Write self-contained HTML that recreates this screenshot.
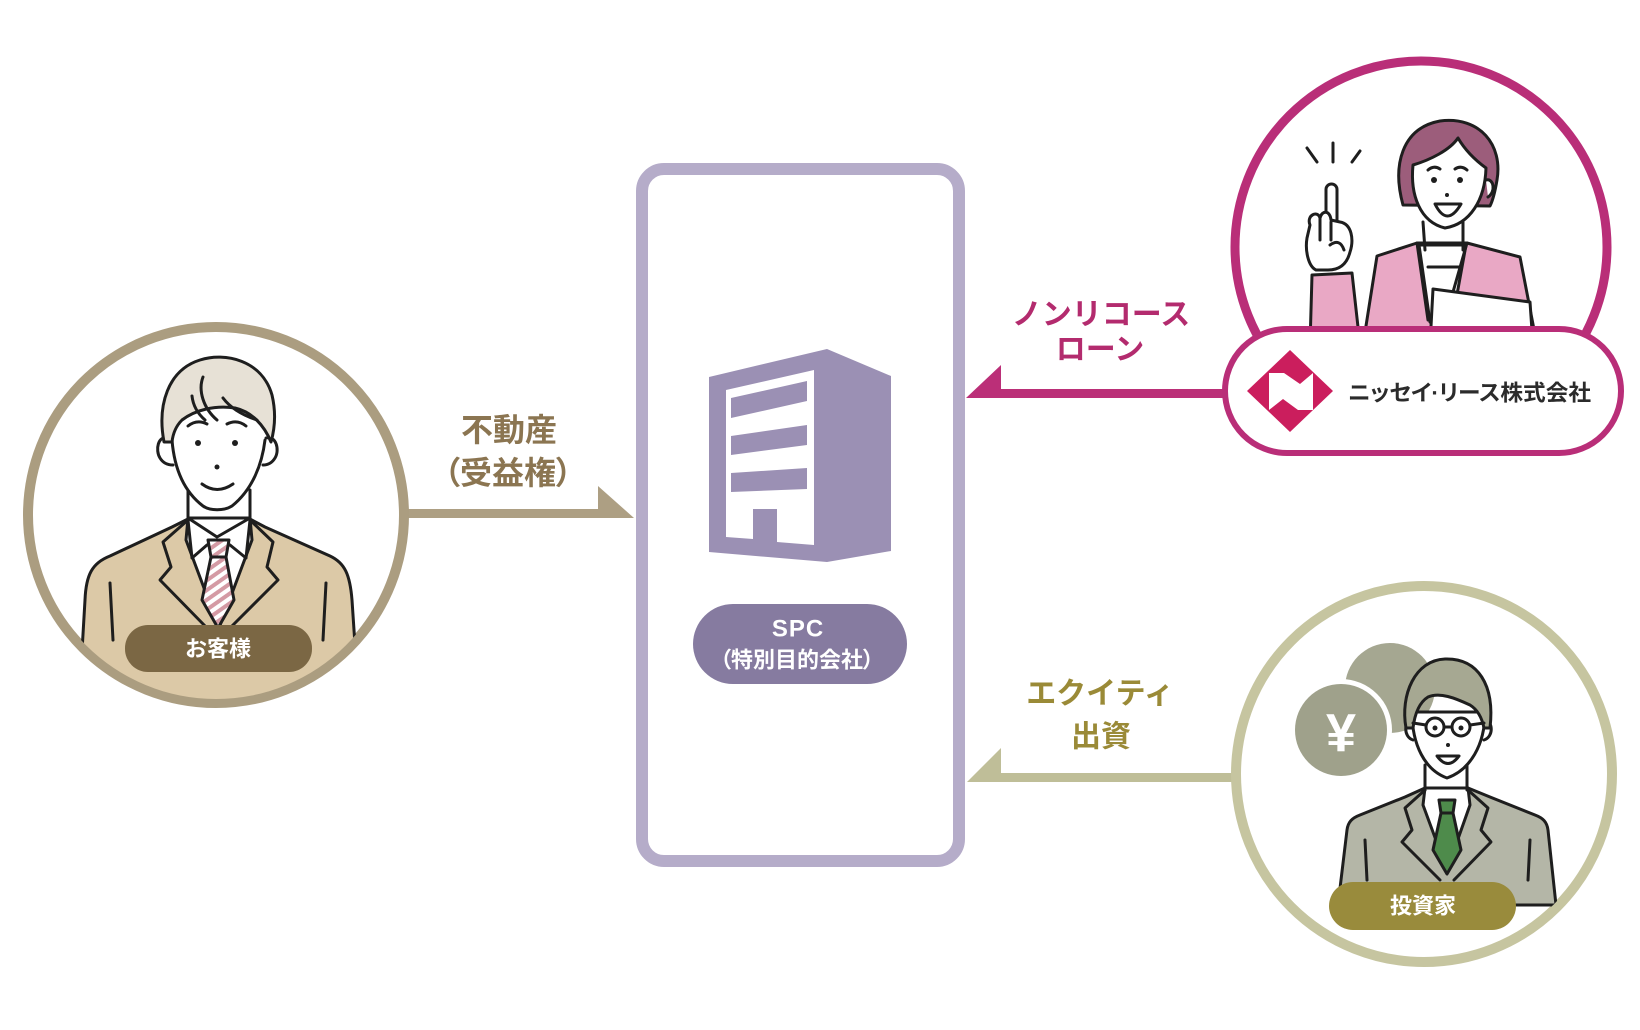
<!DOCTYPE html>
<html><head><meta charset="utf-8"><style>
html,body{margin:0;padding:0;background:#fff;}
svg{display:block;}
text{font-family:"Liberation Sans","Noto Sans CJK JP",sans-serif;font-weight:bold;}
</style></head><body>
<svg width="1640" height="1030" viewBox="0 0 1640 1030" xmlns="http://www.w3.org/2000/svg">
<defs>
<clipPath id="cL"><circle cx="216" cy="515" r="184"/></clipPath>
<clipPath id="cN"><circle cx="1421" cy="247" r="182"/></clipPath>
<clipPath id="cI"><circle cx="1424" cy="774" r="184"/></clipPath>
<pattern id="stripe" patternUnits="userSpaceOnUse" width="8" height="8" patternTransform="rotate(-35)">
<rect width="8" height="8" fill="#fff"/><rect width="8" height="4" fill="#d49aa4"/></pattern>
</defs>
<rect width="1640" height="1030" fill="#fff"/>

<!-- SPC box -->
<rect x="642" y="169" width="317" height="692" rx="22" fill="#fff" stroke="#b5acc9" stroke-width="12"/>
<polygon points="709,377 827,349 891,376 891,551 827,562 709,552" fill="#9b90b4"/>
<polygon points="726,390 814,370 814,545 777,542 777,509 753,509 753,539 726,537" fill="#fff"/>
<polygon points="731,398 807,381 807,401 731,418" fill="#9b90b4"/>
<polygon points="731,436 807,425 807,445 731,455" fill="#9b90b4"/>
<polygon points="731,473 807,468 807,489 731,492" fill="#9b90b4"/>
<rect x="693" y="604" width="214" height="80" rx="40" fill="#867ba0"/>
<text x="798" y="629" font-size="24" fill="#fff" text-anchor="middle" dominant-baseline="central" letter-spacing="1">SPC</text>
<text x="797" y="660" font-size="22" fill="#fff" text-anchor="middle" dominant-baseline="central" style="font-feature-settings:'palt'">（特別目的会社）</text>

<!-- arrows -->
<polygon points="405,509 598,509 598,486 634,518 405,518" fill="#ad9f83"/>
<polygon points="1226,389 1001,389 1001,365 966,398 1226,398" fill="#bb2f78"/>
<polygon points="1232,773 1001,773 1001,748 967,782 1232,782" fill="#bfbe98"/>

<!-- arrow labels -->
<text x="509" y="430" font-size="32" fill="#8b7551" text-anchor="middle" dominant-baseline="central">不動産</text>
<text x="508" y="473" font-size="32" fill="#8b7551" text-anchor="middle" dominant-baseline="central" style="font-feature-settings:'palt'">（受益権）</text>
<text x="1101" y="315" font-size="30" fill="#b32b6e" text-anchor="middle" dominant-baseline="central">ノンリコース</text>
<text x="1100" y="350" font-size="30" fill="#b32b6e" text-anchor="middle" dominant-baseline="central">ローン</text>
<text x="1100" y="694" font-size="30" fill="#9a8a37" text-anchor="middle" dominant-baseline="central">エクイティ</text>
<text x="1101" y="737" font-size="30" fill="#9a8a37" text-anchor="middle" dominant-baseline="central">出資</text>

<!-- LEFT customer -->
<circle cx="216" cy="515" r="188" fill="#fff" stroke="#ab9d80" stroke-width="10"/>
<g clip-path="url(#cL)" stroke="#1e1e1e" stroke-width="3" stroke-linejoin="round" stroke-linecap="round">
<path d="M78 720 L85 600 C86 575,92 563,110 556 L172 527 L190 518 L248 518 L265 527 L330 556 C345 563,350 575,352 600 L360 720 Z" fill="#dcc9a7"/>
<polygon points="188,518 250,518 252,540 219,628 186,540" fill="#fff"/>
<polygon points="208,540 229,540 226,557 211,557" fill="url(#stripe)"/>
<polygon points="211,557 226,557 234,600 218,628 202,600" fill="url(#stripe)"/>
<polyline points="188,518 217,537 250,518" fill="none"/>
<polyline points="188,520 192,558 207,545" fill="none"/>
<polyline points="250,520 246,558 230,545" fill="none"/>
<polyline points="188,520 163,542 171,567 160,580 207,628" fill="none"/>
<polyline points="250,520 273,542 267,567 278,580 230,628" fill="none"/>
<path d="M110 583 L113 640 M326 583 L323 640" fill="none"/>
<path d="M188 490 L188 520 M250 490 L250 520" fill="none"/>
<path d="M168 438 C158 435,155 450,160 458 C163 463,168 465,173 465" fill="#fff"/>
<path d="M266 438 C276 435,280 450,275 458 C272 463,268 465,263 465" fill="#fff"/>
<path d="M172 430 C172 465,182 490,203 506 C210 511,224 511,232 506 C252 490,264 465,265 430 Z" fill="#fff" stroke="none"/>
<path d="M172 440 C174 465,182 490,203 506 C210 511,224 511,232 506 C252 490,262 465,265 440" fill="none"/>
<path d="M164 442 C157 405,168 370,200 360 C225 352,262 360,272 395 C276 412,275 428,271 442 C264 425,252 412,235 408 C215 405,195 410,182 420 C176 426,173 433,172 442 Z" fill="#e7e1d6"/>
<path d="M203 377 C198 390,203 408,217 420 M223 398 C232 410,245 416,257 420 M192 396 C193 405,197 413,205 420" fill="none"/>
<path d="M188 426 Q197 419 207 424 M227 424 Q237 419 246 426" fill="none"/>
<circle cx="198" cy="443" r="3" fill="#1e1e1e" stroke="none"/>
<circle cx="235" cy="443" r="3" fill="#1e1e1e" stroke="none"/>
<circle cx="217" cy="467" r="2.5" fill="#1e1e1e" stroke="none"/>
<path d="M202 484 Q217 495 233 484" fill="none"/>
</g>
<rect x="125" y="625" width="187" height="47" rx="23" fill="#7b6744"/>
<text x="218" y="649" font-size="22" fill="#fff" text-anchor="middle" dominant-baseline="central">お客様</text>

<!-- NISSAY -->
<circle cx="1421" cy="247" r="186" fill="#fff" stroke="#b92e78" stroke-width="9"/>
<g clip-path="url(#cN)" stroke="#1e1e1e" stroke-width="3" stroke-linejoin="round" stroke-linecap="round">
<path d="M1363 345 L1377 256 L1417 243 L1467 243 L1520 257 L1537 345 Z" fill="#e9a8c5"/>
<polygon points="1419,245 1466,245 1456,300 1430,322" fill="#fff"/>
<path d="M1428 267 L1460 267" fill="none"/>
<path d="M1417 243 L1428 320 M1467 243 L1453 292" fill="none"/>
<path d="M1312 275 L1352 273 L1360 345 L1310 345 Z" fill="#e9a8c5"/>
<rect x="1326" y="184" width="11" height="45" rx="5.5" fill="#fff"/>
<path d="M1310 225 C1306 215,1318 210,1320 218 C1322 210,1330 210,1331 220 L1340 222 C1352 224,1354 240,1350 252 C1347 264,1340 270,1328 270 L1316 270 C1308 266,1305 250,1307 238 Z" fill="#fff"/>
<path d="M1320 218 L1320 240 M1331 222 L1331 240 M1330 245 Q1340 238 1344 250" fill="none"/>
<path d="M1307 148 L1317 162 M1333 143 L1333 162 M1352 162 L1360 151" fill="none"/>
<polygon points="1433,289 1530,302 1533,345 1430,345" fill="#fff"/>
<path d="M1423 222 L1425 250 M1463 222 L1463 250" fill="none"/>
<path d="M1403 205 C1392 165,1402 128,1440 121 C1480 116,1503 145,1497 180 C1495 192,1493 200,1490 206 Z" fill="#9c5d7b"/>
<path d="M1413 165 C1410 195,1420 222,1445 228 C1470 224,1485 200,1486 168 C1475 160,1465 150,1458 138 C1450 150,1430 160,1413 165 Z" fill="#fff"/>
<path d="M1486 180 C1494 178,1496 192,1488 197" fill="#fff"/>
<path d="M1428 170 Q1434 165 1440 169 M1455 169 Q1461 165 1467 170" fill="none"/>
<circle cx="1434" cy="180" r="3" fill="#1e1e1e" stroke="none"/>
<circle cx="1460" cy="180" r="3" fill="#1e1e1e" stroke="none"/>
<circle cx="1447" cy="195" r="2" fill="#1e1e1e" stroke="none"/>
<path d="M1435 204 Q1447 228 1461 204 Z" fill="#fff"/>
</g>
<rect x="1225" y="329" width="396" height="124" rx="62" fill="#fff" stroke="#b92e78" stroke-width="6"/>
<polygon points="1247,391 1290,350 1333,391 1290,432" fill="#cb1e5d"/>
<polygon points="1269,373 1284,373 1300,384 1313,373 1313,410 1298,410 1283,399 1269,410" fill="#fff"/>
<text x="1348" y="393" font-size="22" fill="#2b2b2b" dominant-baseline="central" textLength="243" lengthAdjust="spacingAndGlyphs" style="font-feature-settings:'palt'">ニッセイ·リース株式会社</text>

<!-- INVESTOR -->
<circle cx="1424" cy="774" r="188" fill="#fff" stroke="#c6c5a0" stroke-width="10"/>
<g clip-path="url(#cI)">
<circle cx="1390" cy="688" r="45" fill="#a5a791"/>
<circle cx="1341" cy="730" r="51" fill="#fff"/>
<circle cx="1341" cy="730" r="46" fill="#9fa18b"/>
<text x="1341" y="733" font-size="54" fill="#fff" text-anchor="middle" dominant-baseline="central">¥</text>
<g stroke="#1e1e1e" stroke-width="3" stroke-linejoin="round" stroke-linecap="round">
<path d="M1338 905 L1347 830 C1348 822,1352 818,1360 815 L1405 797 L1425 788 L1468 788 L1490 797 L1535 815 C1543 818,1547 822,1548 830 L1556 905 Z" fill="#b4b6a7"/>
<polygon points="1425,788 1468,788 1470,805 1447,870 1423,805" fill="#fff"/>
<polygon points="1439,800 1455,800 1453,813 1441,813" fill="#4e8b4b"/>
<polygon points="1441,813 1453,813 1461,850 1447,874 1433,850" fill="#4e8b4b"/>
<polyline points="1425,790 1405,808 1412,830 1402,842 1440,880" fill="none"/>
<polyline points="1468,790 1488,808 1481,830 1491,842 1454,880" fill="none"/>
<path d="M1365 840 L1367 880 M1530 840 L1528 880" fill="none"/>
<path d="M1425 765 L1425 790 M1467 765 L1467 790" fill="none"/>
<path d="M1412 722 C1404 720,1403 737,1413 740 M1485 722 C1493 720,1494 737,1484 740" fill="#fff"/>
<path d="M1412 712 C1412 745,1425 770,1447 778 C1470 770,1485 745,1485 712 Z" fill="#fff"/>
<path d="M1406 728 C1400 695,1415 660,1445 659 C1478 658,1495 685,1490 728 L1484 728 C1482 718,1478 710,1470 705 C1455 698,1440 692,1428 697 C1420 702,1415 712,1413 728 Z" fill="#a6a892"/>
<circle cx="1435" cy="727" r="9" fill="none"/>
<circle cx="1461" cy="727" r="9" fill="none"/>
<path d="M1444 727 L1452 727 M1426 725 L1413 723 M1470 725 L1484 723" fill="none"/>
<circle cx="1435" cy="728" r="2.5" fill="#1e1e1e" stroke="none"/>
<circle cx="1461" cy="728" r="2.5" fill="#1e1e1e" stroke="none"/>
<circle cx="1448" cy="745" r="2" fill="#1e1e1e" stroke="none"/>
<path d="M1437 756 Q1448 771 1459 756 Z" fill="#fff"/>
</g>
</g>
<rect x="1329" y="882" width="187" height="48" rx="24" fill="#998b3c"/>
<text x="1423" y="906" font-size="22" fill="#fff" text-anchor="middle" dominant-baseline="central">投資家</text>
</svg>
</body></html>
